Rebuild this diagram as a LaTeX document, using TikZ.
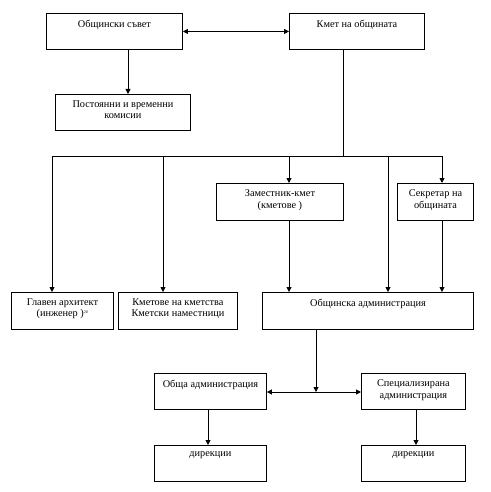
\documentclass[tikz,border=0pt]{standalone}
\usepackage{fontspec}
\setmainfont{Liberation Serif}
\usetikzlibrary{arrows.meta}
\begin{document}
\begin{tikzpicture}[x=1pt,y=-1pt,
  box/.style={draw,line width=0.9pt,inner sep=0pt},
  txt/.style={anchor=north,inner sep=0pt,align=center,font=\fontsize{10.3}{11.5}\selectfont,yshift=-6.5pt},
  conn/.style={line width=0.9pt},
  arr/.style={conn,-{Triangle[length=5pt,width=5pt]}},
  darr/.style={conn,{Triangle[length=5pt,width=5pt]}-{Triangle[length=5pt,width=5pt]}}]
\useasboundingbox (0,0) rectangle (490,492);
\newcommand{\bx}[5]{\node[box,minimum width={#4-#2},minimum height={#5-#3},anchor=north west] (#1) at (#2,#3) {};}
\bx{b1}{46}{13}{182}{49}
\bx{b2}{289}{13}{424}{49}
\bx{b3}{55}{94}{190}{130}
\bx{b4}{216}{183}{343}{220}
\bx{b5}{397}{183}{473}{220}
\bx{b6}{11}{292}{113}{329}
\bx{b7}{118}{292}{237}{329}
\bx{b8}{262}{292}{473}{329}
\bx{b9}{154}{373}{266}{409}
\bx{b10}{361}{373}{465}{409}
\bx{b11}{154}{445}{266}{481}
\bx{b12}{361}{445}{465}{481}
\node[txt] (t1) at (b1.north) {Общински съвет};
\node[txt] (t2) at (b2.north) {Кмет на общината};
\node[txt] (t3) at (b3.north) {Постоянни и временни\\комисии};
\node[txt] (t4) at (b4.north) {Заместник-кмет\\(кметове )};
\node[txt] (t5) at (b5.north) {Секретар на\\общината};
\node[txt] (t6) at (b6.north) {Главен архитект\\(инженер )\textsuperscript{\fontsize{4}{4}\selectfont 20}};
\node[txt] (t7) at (b7.north) {Кметове на кметства\\Кметски наместници};
\node[txt] (t8) at (b8.north) {Общинска администрация};
\node[txt] (t9) at (b9.north) {Обща администрация};
\node[txt] (t10) at (b10.north) {Специализирана\\администрация};
\node[txt] (t11) at (b11.north) {дирекции};
\node[txt] (t12) at (b12.north) {дирекции};
% coordinates
\coordinate (xa) at (128,0);
\coordinate (xk) at (343,0);
\coordinate (busL) at (52,156);
\coordinate (busR) at (442,156);
\coordinate (busK) at (343,156);
\coordinate (x1) at (52,0);
\coordinate (x2) at (163,0);
\coordinate (x3) at (289,0);
\coordinate (x4) at (388,0);
\coordinate (x5) at (442,0);
\coordinate (xo) at (316,0);
\coordinate (jn) at (316,392);
\coordinate (xl) at (208,0);
\coordinate (xr) at (416,0);
% connectors
\draw[darr] (b1.east) -- (b2.west);
\draw[arr] (b1.south -| xa) -- (b3.north -| xa);
\draw[conn] (b2.south -| xk) -- (busK);
\draw[conn] (busL) -- (busR);
\draw[arr] (busL) -- (b6.north -| x1);
\draw[arr] (busL -| x2) -- (b7.north -| x2);
\draw[arr] (busL -| x3) -- (b4.north -| x3);
\draw[arr] (busL -| x4) -- (b8.north -| x4);
\draw[arr] (busR) -- (b5.north -| x5);
\draw[arr] (b4.south -| x3) -- (b8.north -| x3);
\draw[arr] (b5.south -| x5) -- (b8.north -| x5);
\draw[arr] (b8.south -| xo) -- (jn);
\draw[darr] (b9.east |- jn) -- (b10.west |- jn);
\draw[arr] (b9.south -| xl) -- (b11.north -| xl);
\draw[arr] (b10.south -| xr) -- (b12.north -| xr);
\end{tikzpicture}
\end{document}
